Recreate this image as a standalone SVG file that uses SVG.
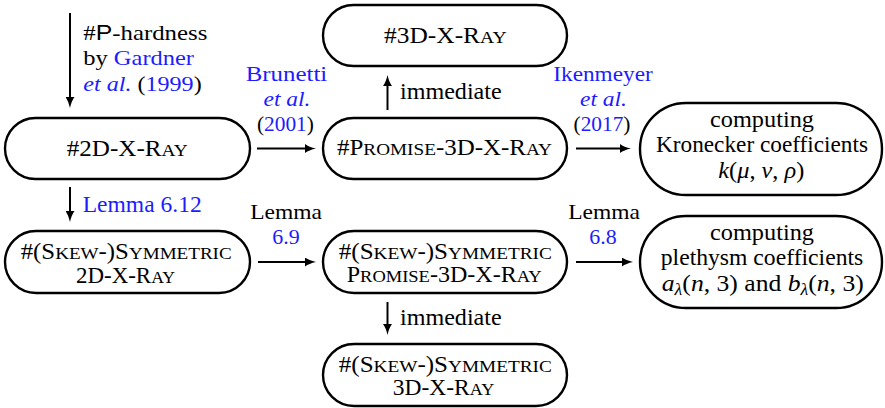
<svg xmlns="http://www.w3.org/2000/svg" width="885" height="408" viewBox="0 0 885 408">
<style>
text{font-family:'Liberation Serif','Times New Roman',serif;font-size:23px;fill:#000}
.s{font-size:17.7px}
.b{fill:#1c1cff}
.i{font-style:italic}
.m{text-anchor:middle}
.c{font-size:21.5px}
.node{fill:#fff;stroke:#000;stroke-width:2.4}
.edge{stroke:#000;stroke-width:2;fill:none;marker-end:url(#ah)}
.sf{font-family:'Liberation Sans',Arial,sans-serif}
</style>
<defs>
<marker id="ah" markerUnits="userSpaceOnUse" viewBox="0 -4.5 11 9" refX="3" refY="0" markerWidth="11" markerHeight="9" orient="auto">
<path d="M0,-4.5 Q4,-1.5 11,0 Q4,1.5 0,4.5 z" fill="#000"/>
</marker>
</defs>

<g id="n2d">
<rect class="node" x="5" y="118" width="245" height="61" rx="30.5"/>
<text class="m" x="127.2" y="155.5" textLength="121" lengthAdjust="spacingAndGlyphs">#2D-X-R<tspan class="s">AY</tspan></text>
</g>
<g id="n3d">
<rect class="node" x="323" y="5" width="244" height="61" rx="30.5"/>
<text class="m" x="445.3" y="42.5" textLength="122.5" lengthAdjust="spacingAndGlyphs">#3D-X-R<tspan class="s">AY</tspan></text>
</g>
<g id="npromise">
<rect class="node" x="323" y="118" width="244" height="61" rx="30.5"/>
<text class="m" x="444.5" y="155" textLength="215" lengthAdjust="spacingAndGlyphs">#P<tspan class="s">ROMISE</tspan>-3D-X-R<tspan class="s">AY</tspan></text>
</g>
<g id="nkron">
<rect class="node" x="640" y="103" width="242" height="92" rx="46"/>
<text class="m" x="762" y="127" textLength="104" lengthAdjust="spacingAndGlyphs">computing</text>
<text class="m" x="762" y="152" textLength="212" lengthAdjust="spacingAndGlyphs">Kronecker coefficients</text>
<text class="m" x="761.3" y="178" textLength="86" lengthAdjust="spacingAndGlyphs"><tspan class="i">k</tspan>(<tspan class="i">μ</tspan>, <tspan class="i">ν</tspan>, <tspan class="i">ρ</tspan>)</text>
</g>
<g id="nskew2d">
<rect class="node" x="5" y="231" width="245" height="62" rx="31"/>
<text class="m" x="126.2" y="259" textLength="211" lengthAdjust="spacingAndGlyphs">#(S<tspan class="s">KEW</tspan>-)S<tspan class="s">YMMETRIC</tspan></text>
<text class="m" x="125.5" y="282.5" textLength="99" lengthAdjust="spacingAndGlyphs">2D-X-R<tspan class="s">AY</tspan></text>
</g>
<g id="nskewpromise">
<rect class="node" x="323" y="231" width="244" height="62" rx="31"/>
<text class="m" x="445.3" y="258.5" textLength="213" lengthAdjust="spacingAndGlyphs">#(S<tspan class="s">KEW</tspan>-)S<tspan class="s">YMMETRIC</tspan></text>
<text class="m" x="444.2" y="282" textLength="195" lengthAdjust="spacingAndGlyphs">P<tspan class="s">ROMISE</tspan>-3D-X-R<tspan class="s">AY</tspan></text>
</g>
<g id="nskew3d">
<rect class="node" x="323" y="344" width="244" height="62" rx="31"/>
<text class="m" x="445.3" y="371.5" textLength="213" lengthAdjust="spacingAndGlyphs">#(S<tspan class="s">KEW</tspan>-)S<tspan class="s">YMMETRIC</tspan></text>
<text class="m" x="443.5" y="395" textLength="101.5" lengthAdjust="spacingAndGlyphs">3D-X-R<tspan class="s">AY</tspan></text>
</g>
<g id="npleth">
<rect class="node" x="640" y="216" width="242" height="92" rx="46"/>
<text class="m" x="762" y="240" textLength="104" lengthAdjust="spacingAndGlyphs">computing</text>
<text class="m" x="762" y="265" textLength="202.5" lengthAdjust="spacingAndGlyphs">plethysm coefficients</text>
<text class="m" x="762.8" y="291" textLength="202" lengthAdjust="spacingAndGlyphs"><tspan class="i">a</tspan><tspan class="i" font-size="16" dy="4">λ</tspan><tspan dy="-4">(</tspan><tspan class="i">n</tspan>, 3) and <tspan class="i">b</tspan><tspan class="i" font-size="16" dy="4">λ</tspan><tspan dy="-4">(</tspan><tspan class="i">n</tspan>, 3)</text>
</g>

<g id="connectors">
<line class="edge" x1="70" y1="13" x2="70" y2="100"/>
<line class="edge" x1="70" y1="187" x2="70" y2="214"/>
<line class="edge" x1="257" y1="148.5" x2="308" y2="148.5"/>
<line class="edge" x1="387.5" y1="110" x2="387.5" y2="83"/>
<line class="edge" x1="576" y1="148.5" x2="623" y2="148.5"/>
<line class="edge" x1="258" y1="262" x2="308" y2="262"/>
<line class="edge" x1="576" y1="262" x2="625" y2="262"/>
<line class="edge" x1="387.5" y1="302" x2="387.5" y2="327"/>
</g>

<g id="labels">
<text class="c" x="83.3" y="40" textLength="124" lengthAdjust="spacingAndGlyphs">#<tspan class="sf">P</tspan>-hardness</text>
<text class="c" x="83.3" y="65" textLength="110.7" lengthAdjust="spacingAndGlyphs">by <tspan class="b">Gardner</tspan></text>
<text class="c" x="83.3" y="90.5" textLength="118.4" lengthAdjust="spacingAndGlyphs"><tspan class="b i">et al.</tspan> (<tspan class="b">1999</tspan>)</text>
<text class="m b c" x="286.5" y="81" textLength="81.6" lengthAdjust="spacingAndGlyphs">Brunetti</text>
<text class="m b i c" x="287" y="106" textLength="47" lengthAdjust="spacingAndGlyphs">et al.</text>
<text class="m c" x="285.4" y="131" textLength="57" lengthAdjust="spacingAndGlyphs">(<tspan class="b">2001</tspan>)</text>
<text x="400" y="99" textLength="101.7" lengthAdjust="spacingAndGlyphs">immediate</text>
<text class="m b c" x="603" y="81" textLength="99.4" lengthAdjust="spacingAndGlyphs">Ikenmeyer</text>
<text class="m b i c" x="603.5" y="106" textLength="47" lengthAdjust="spacingAndGlyphs">et al.</text>
<text class="m c" x="602" y="131" textLength="57" lengthAdjust="spacingAndGlyphs">(<tspan class="b">2017</tspan>)</text>
<text class="b" x="82.7" y="212" textLength="119" lengthAdjust="spacingAndGlyphs">Lemma 6.12</text>
<text class="m c" x="286" y="219" textLength="71.7" lengthAdjust="spacingAndGlyphs">Lemma</text>
<text class="m b c" x="286" y="244" textLength="27.4" lengthAdjust="spacingAndGlyphs">6.9</text>
<text class="m c" x="604" y="219" textLength="71.7" lengthAdjust="spacingAndGlyphs">Lemma</text>
<text class="m b c" x="603" y="244" textLength="27.4" lengthAdjust="spacingAndGlyphs">6.8</text>
<text x="400" y="325" textLength="101.7" lengthAdjust="spacingAndGlyphs">immediate</text>
</g>
</svg>
